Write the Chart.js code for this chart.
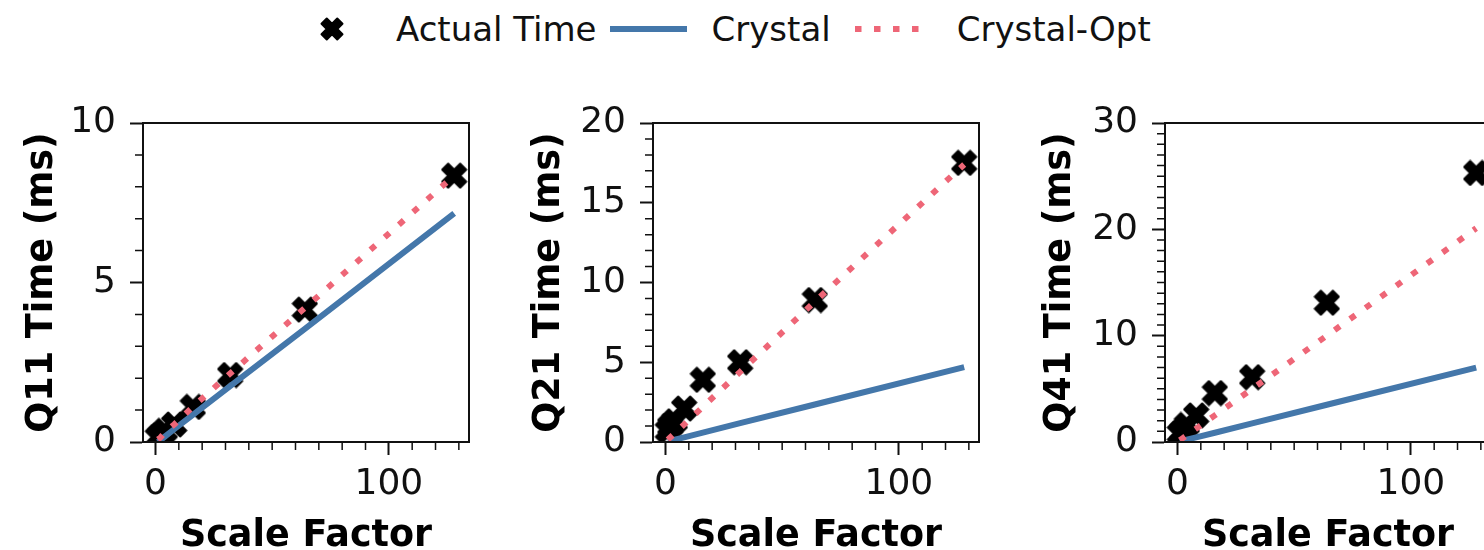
<!DOCTYPE html>
<html>
<head>
<meta charset="utf-8">
<title>Query time vs scale factor</title>
<script src="https://cdn.jsdelivr.net/npm/chart.js@4.4.1/dist/chart.umd.min.js"></script>
<style>
  html, body { margin: 0; padding: 0; background: #fff; overflow: hidden; }
  body { width: 1484px; height: 550px; position: relative; font-family: "DejaVu Sans", sans-serif; }
  .panel { position: absolute; top: 0; height: 560px; }
  #legend { position: absolute; left: 320px; top: 0; height: 58px; display: flex; align-items: center;
            font-size: 34px; color: #111; white-space: nowrap; }
  #legend svg, #legend canvas { display: block; flex: none; }
</style>
</head>
<body>
<div id="legend"></div>
<div class="panel" style="left:0;width:490px"><canvas id="q11"></canvas></div>
<div class="panel" style="left:500px;width:500px"><canvas id="q21"></canvas></div>
<div class="panel" style="left:1000px;width:512px"><canvas id="q41"></canvas></div>
<script>
const scaleFactors = [1, 2, 4, 8, 16, 32, 64, 128];

const q11Actual  = [0.15, 0.2, 0.35, 0.55, 1.1, 2.1, 4.15, 8.35];
const q11Crystal = [0.0, 0.05, 0.17, 0.4, 0.85, 1.75, 3.55, 7.17];
const q11Opt     = [0.08, 0.13, 0.3, 0.55, 1.1, 2.15, 4.2, 8.35];

const q21Actual  = [0.7, 1.0, 1.3, 2.1, 3.9, 5.0, 8.9, 17.5];
const q21Crystal = [0.04, 0.07, 0.15, 0.29, 0.59, 1.18, 2.35, 4.7];
const q21Opt     = [0.14, 0.28, 0.55, 1.1, 2.2, 4.4, 8.8, 17.4];

const q41Actual  = [0.8, 1.0, 1.6, 2.5, 4.6, 6.1, 13.1, 25.3];
const q41Crystal = [0.05, 0.1, 0.22, 0.44, 0.87, 1.75, 3.5, 7.0];
const q41Opt     = [0.16, 0.32, 0.63, 1.26, 2.5, 5.0, 10.0, 20.1];

const xTicks   = [0, 100];
const q11Ticks = [0, 5, 10];
const q21Ticks = [0, 5, 10, 15, 20];
const q41Ticks = [0, 10, 20, 30];

const BLUE = '#4477AA';
const RED = '#EE6677';

Chart.defaults.font.family = '"DejaVu Sans", sans-serif';
Chart.defaults.color = '#111';

// filled "X" marker like matplotlib's 'X' (with a thin edge)
function xMarker(size) {
  const c = document.createElement('canvas');
  c.width = c.height = size;
  const g = c.getContext('2d');
  const k = (size / 2 - 1.5) / 2.83;
  g.translate(size / 2, size / 2);
  g.rotate(Math.PI / 4);
  const pts = [[-1,-3],[1,-3],[1,-1],[3,-1],[3,1],[1,1],[1,3],[-1,3],[-1,1],[-3,1],[-3,-1],[-1,-1]];
  g.beginPath();
  pts.forEach(([px, py], i) => i ? g.lineTo(px * k, py * k) : g.moveTo(px * k, py * k));
  g.closePath();
  g.fillStyle = '#000';
  g.fill();
  g.lineJoin = 'round';
  g.lineWidth = 2;
  g.strokeStyle = '#000';
  g.stroke();
  return c;
}
const marker = xMarker(27);

// box spines + minor ticks
const frame = {
  id: 'frame',
  afterDraw(chart, args, opts) {
    const {ctx, chartArea: a} = chart;
    const x = chart.scales.x, y = chart.scales.y;
    ctx.save();
    ctx.strokeStyle = '#111';
    ctx.lineWidth = 1.5;
    ctx.beginPath();
    for (let v = Math.ceil(x.min / opts.xMinor) * opts.xMinor; v <= x.max; v += opts.xMinor) {
      if (x.ticks.some(t => t.value === v)) continue;
      const px = x.getPixelForValue(v);
      ctx.moveTo(px, a.bottom);
      ctx.lineTo(px, a.bottom + 8);
    }
    for (let v = Math.ceil(y.min / opts.yMinor) * opts.yMinor; v <= y.max; v += opts.yMinor) {
      if (y.ticks.some(t => t.value === v)) continue;
      const py = y.getPixelForValue(v);
      ctx.moveTo(a.left - 8, py);
      ctx.lineTo(a.left, py);
    }
    ctx.stroke();
    ctx.lineWidth = 2;
    ctx.strokeRect(a.left, a.top, a.right - a.left, a.bottom - a.top);
    ctx.restore();
  }
};

function pairs(ys) {
  return scaleFactors.map((x, i) => ({x: x, y: ys[i]}));
}

function makePanel(id, yTitle, yMax, yTicks, actual, crystal, opt, axisWidth, titlePad) {
  return new Chart(document.getElementById(id), {
    type: 'scatter',
    data: {
      datasets: [
        {
          label: 'Actual Time',
          data: pairs(actual),
          pointStyle: marker,
          pointRadius: 13,
          order: 3
        },
        {
          label: 'Crystal',
          data: pairs(crystal),
          showLine: true,
          pointRadius: 0,
          borderColor: BLUE,
          borderWidth: 6,
          order: 2
        },
        {
          label: 'Crystal-Opt',
          data: pairs(opt),
          showLine: true,
          pointRadius: 0,
          borderColor: RED,
          borderWidth: 6,
          borderDash: [6.5, 12.5],
          order: 1
        }
      ]
    },
    options: {
      responsive: true,
      maintainAspectRatio: false,
      animation: false,
      events: [],
      layout: { padding: { top: 123, right: 21, bottom: 0, left: 0 } },
      plugins: {
        legend: { display: false },
        tooltip: { enabled: false },
        frame: { xMinor: 10, yMinor: 1 }
      },
      scales: {
        x: {
          type: 'linear',
          min: -5.35,
          max: 134.35,
          afterBuildTicks: s => { s.ticks = xTicks.map(v => ({value: v})); },
          afterFit: s => { s.height = 118; },
          grid: { drawOnChartArea: false, tickLength: 13, tickWidth: 2, tickColor: '#111' },
          border: { color: '#111', width: 2 },
          ticks: { font: { size: 36 }, padding: 8, maxRotation: 0 },
          title: {
            display: true,
            text: 'Scale Factor',
            color: '#000',
            font: { size: 36.5, weight: 'bold', lineHeight: 1 },
            padding: { top: 0, bottom: 5 }
          }
        },
        y: {
          min: 0,
          max: yMax,
          afterBuildTicks: s => { s.ticks = yTicks.map(v => ({value: v})); },
          afterFit: s => { s.width = axisWidth; },
          grid: { drawOnChartArea: false, tickLength: 13, tickWidth: 2, tickColor: '#111' },
          border: { color: '#111', width: 2 },
          ticks: { font: { size: 36 }, padding: 14 },
          title: {
            display: true,
            text: yTitle,
            color: '#000',
            font: { size: 36.5, weight: 'bold', lineHeight: 1 },
            padding: { top: titlePad, bottom: 0 }
          }
        }
      }
    },
    plugins: [frame]
  });
}

const c1 = makePanel('q11', 'Q11 Time (ms)', 10, q11Ticks, q11Actual, q11Crystal, q11Opt, 143, 24);
makePanel('q21', 'Q21 Time (ms)', 20, q21Ticks, q21Actual, q21Crystal, q21Opt, 153, 31);
makePanel('q41', 'Q41 Time (ms)', 30, q41Ticks, q41Actual, q41Crystal, q41Opt, 165, 42);

// shared legend built from the first panel's datasets
function buildLegend(chart) {
  const box = document.getElementById('legend');
  const handleWidth = [24, 77, 65];
  const handleGap = [0, 13, 24];
  const textGap = [52, 25, 37];
  chart.data.datasets.forEach((ds, i) => {
    let handle;
    if (ds.pointStyle instanceof HTMLCanvasElement) {
      handle = xMarker(handleWidth[i]);
    } else {
      const ns = 'http://www.w3.org/2000/svg';
      handle = document.createElementNS(ns, 'svg');
      handle.setAttribute('width', handleWidth[i]);
      handle.setAttribute('height', 18);
      const ln = document.createElementNS(ns, 'line');
      ln.setAttribute('x1', 0); ln.setAttribute('x2', handleWidth[i]);
      ln.setAttribute('y1', 9); ln.setAttribute('y2', 9);
      ln.setAttribute('stroke', ds.borderColor);
      ln.setAttribute('stroke-width', 6);
      if (ds.borderDash) ln.setAttribute('stroke-dasharray', ds.borderDash.join(' '));
      handle.appendChild(ln);
    }
    handle.style.marginLeft = handleGap[i] + 'px';
    const txt = document.createElement('span');
    txt.textContent = ds.label;
    txt.style.marginLeft = textGap[i] + 'px';
    box.appendChild(handle);
    box.appendChild(txt);
  });
}
buildLegend(c1);
</script>
</body>
</html>
